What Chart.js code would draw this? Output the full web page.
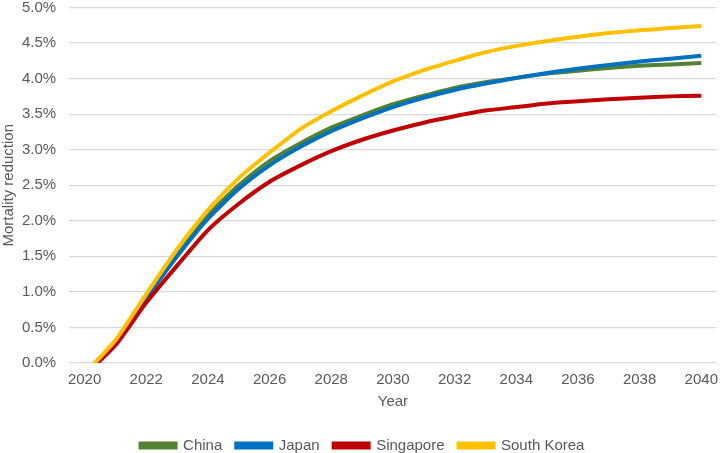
<!DOCTYPE html>
<html>
<head>
<meta charset="utf-8">
<script src="https://cdn.jsdelivr.net/npm/chart.js@4"></script>
<style>
  html, body { margin: 0; padding: 0; background: #fff; }
  #wrap { width: 726px; height: 453px; }
</style>
</head>
<body>
<div id="wrap"><canvas id="chart"></canvas></div>
<script>
// data (percent)
const years = [2020, 2021, 2022, 2023, 2024, 2025, 2026, 2027, 2028, 2029, 2030,
  2031, 2032, 2033, 2034, 2035, 2036, 2037, 2038, 2039, 2040];
const china = [-0.15, 0.30, 0.93, 1.53, 2.08, 2.50, 2.84, 3.09, 3.31, 3.48, 3.64,
  3.76, 3.87, 3.95, 4.01, 4.07, 4.11, 4.15, 4.18, 4.20, 4.22];
const japan = [-0.15, 0.29, 0.91, 1.50, 2.03, 2.45, 2.78, 3.04, 3.26, 3.44, 3.60,
  3.73, 3.84, 3.93, 4.01, 4.08, 4.14, 4.19, 4.24, 4.28, 4.32];
const singapore = [-0.17, 0.25, 0.85, 1.37, 1.87, 2.24, 2.55, 2.78, 2.98, 3.14, 3.27,
  3.38, 3.47, 3.55, 3.60, 3.65, 3.68, 3.71, 3.73, 3.75, 3.76];
const southKorea = [-0.15, 0.32, 0.97, 1.60, 2.15, 2.60, 2.96, 3.29, 3.54, 3.76, 3.96,
  4.12, 4.25, 4.37, 4.46, 4.53, 4.59, 4.64, 4.68, 4.71, 4.74];

const seriesNames = ["China", "Japan", "Singapore", "South Korea"];
const seriesColors = ["#548235", "#0070c0", "#c00000", "#ffc000"];
const seriesData = [china, japan, singapore, southKorea];

const FONT = "'Liberation Sans', Arial, sans-serif";
const GREY = "#595959";

// later series on top, like the original
const datasets = seriesData.map((d, i) => ({
  label: seriesNames[i],
  data: d,
  borderColor: seriesColors[i],
  backgroundColor: seriesColors[i],
  borderWidth: 4,
  pointRadius: 0,
  tension: 0.2,
  fill: false,
  order: seriesData.length - i
}));

new Chart(document.getElementById("chart"), {
  type: "line",
  data: { labels: years, datasets },
  options: {
    responsive: true,
    maintainAspectRatio: false,
    animation: false,
    layout: { padding: { top: 0, right: 1, left: 0, bottom: -10 } },
    plugins: {
      tooltip: { enabled: false },
      legend: {
        position: "bottom",
        labels: {
          font: { family: FONT, size: 15 },
          color: GREY,
          boxWidth: 35,
          boxHeight: 4,
          padding: 14,
          sort: (a, b) => a.datasetIndex - b.datasetIndex
        }
      }
    },
    scales: {
      x: {
        type: "category",
        offset: true,
        grid: { display: false, drawTicks: false },
        border: { display: false },
        ticks: {
          autoSkip: false,
          maxRotation: 0,
          color: GREY,
          font: { family: FONT, size: 15 },
          padding: 8,
          callback: function (v, i) { return i % 2 === 0 ? this.getLabelForValue(v) : ""; }
        },
        title: {
          display: true,
          text: "Year",
          color: GREY,
          font: { family: FONT, size: 15 },
          padding: { top: -4, bottom: 13 }
        }
      },
      y: {
        min: 0,
        max: 5,
        grid: { color: "#d9d9d9", lineWidth: 1.3, drawTicks: true, tickLength: 13, tickColor: "rgba(0,0,0,0)" },
        border: { display: false },
        ticks: {
          stepSize: 0.5,
          color: GREY,
          font: { family: FONT, size: 15, lineHeight: 1 },
          padding: 0,
          callback: v => v.toFixed(1) + "%"
        },
        title: {
          display: true,
          text: "Mortality reduction",
          color: GREY,
          font: { family: FONT, size: 15 },
          padding: { top: 0, bottom: 4 }
        }
      }
    }
  }
});
</script>
</body>
</html>
